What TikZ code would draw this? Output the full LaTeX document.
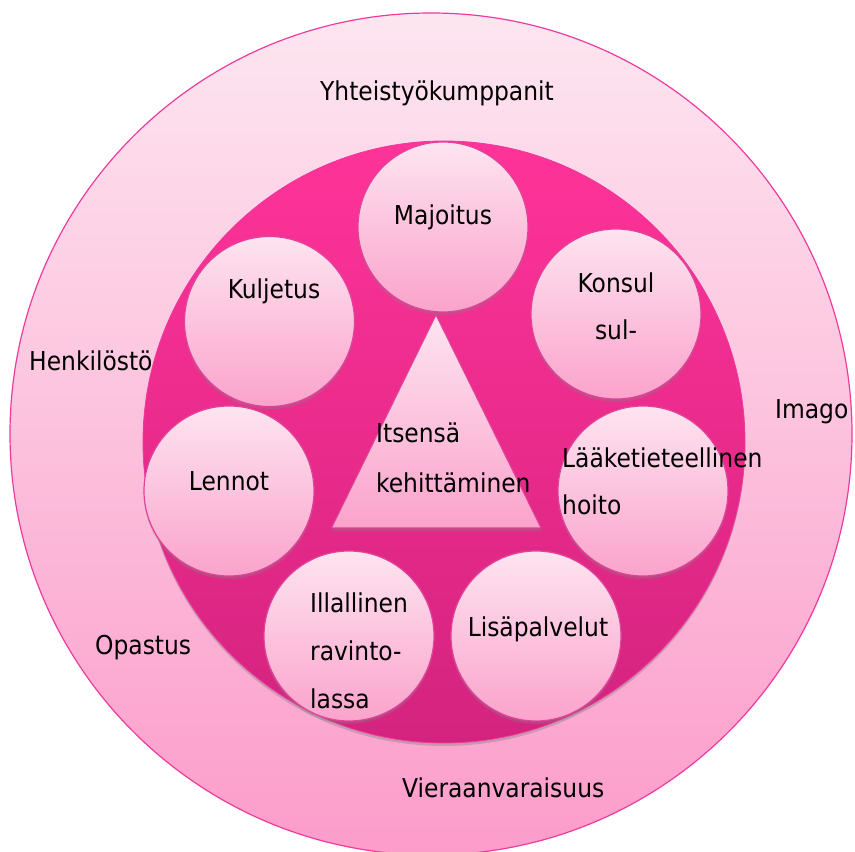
\documentclass[tikz,border=0pt]{standalone}
\usepackage{fontspec}
\setmainfont{DejaVu Sans Condensed}
\usetikzlibrary{shadows}

\definecolor{ringtop}{HTML}{FDE6F0}
\definecolor{ringbot}{HTML}{FC9CCA}
\definecolor{ringrim}{HTML}{EE3A9E}
\definecolor{coretop}{HTML}{FF3399}
\definecolor{corebot}{HTML}{D4237F}
\definecolor{balltop}{HTML}{FDE4F0}
\definecolor{ballbot}{HTML}{FBA3CC}
\definecolor{rim}{HTML}{E0449A}

\tikzset{
  ball/.style={circle, minimum size=170pt, inner sep=0pt, draw=rim, line width=1.2pt,
    top color=balltop, bottom color=ballbot,
    drop shadow={opacity=0.35, shadow xshift=0pt, shadow yshift=-3pt}},
  word/.style={font=\fontsize{26}{30}\selectfont, inner sep=0pt, anchor=base},
  lword/.style={word, anchor=base west},
}

\begin{document}
\begin{tikzpicture}[x=1pt,y=1pt]
  \useasboundingbox (0,0) rectangle (855,852);
  \clip (0,0) rectangle (855,852);

  % outer ring and core
  \node[circle, minimum size=842pt, inner sep=0pt, draw=ringrim, line width=1.2pt,
        top color=ringtop, bottom color=ringbot] (ring) at (431,418) {};
  \node[circle, minimum size=602pt, inner sep=0pt, draw=ringrim, line width=0.8pt,
        top color=coretop, bottom color=corebot,
        drop shadow={opacity=0.4, shadow xshift=0pt, shadow yshift=-3pt}] (core) at (444,410) {};

  % triangle in the middle
  \draw[draw=rim, line width=1pt, top color=balltop, bottom color=ballbot,
        drop shadow={opacity=0.35, shadow xshift=0pt, shadow yshift=-3pt}]
    (436,537) -- (541,324) -- (331.5,324) -- cycle;

  % the seven services
  \foreach \name/\x/\y in {maj/443/625, kul/269.5/530.5, kon/616/538, len/229/361,
                           laa/643/361, ill/349/216, lis/536/216}
    \node[ball] (\name) at (\x,\y) {};

  % labels
  \node[word] (tmaj) at (443,627) {Majoitus};
  \node[word] (tkul) at (274,553.5) {Kuljetus};
  \node[word] (tkon) at (616,559.5) {Konsul};
  \node[word] (tsul) at (616,512) {sul-};
  \node[word] (tlen) at (229,361.5) {Lennot};
  \node[lword] (tlaa) at (562,384.5) {Lääketieteellinen};
  \node[lword] (thoi) at (562,337.5) {hoito};
  \node[lword] (till) at (310,239.5) {Illallinen};
  \node[lword] (trav) at (310,191.5) {ravinto-};
  \node[lword] (tlas) at (310,143.5) {lassa};
  \node[word] (tlis) at (538,215.5) {Lisäpalvelut};
  \node[lword] (tits) at (376,409.5) {Itsensä};
  \node[lword] (tkeh) at (376,359.5) {kehittäminen};

  \node[word] (tyht) at (437,751.5) {Yhteistyökumppanit};
  \node[lword] (then) at (29,481.5) {Henkilöstö};
  \node[lword] (tima) at (775,433.5) {Imago};
  \node[lword] (topa) at (95,197.5) {Opastus};
  \node[lword] (tvie) at (402,54.5) {Vieraanvaraisuus};
\end{tikzpicture}
\end{document}
